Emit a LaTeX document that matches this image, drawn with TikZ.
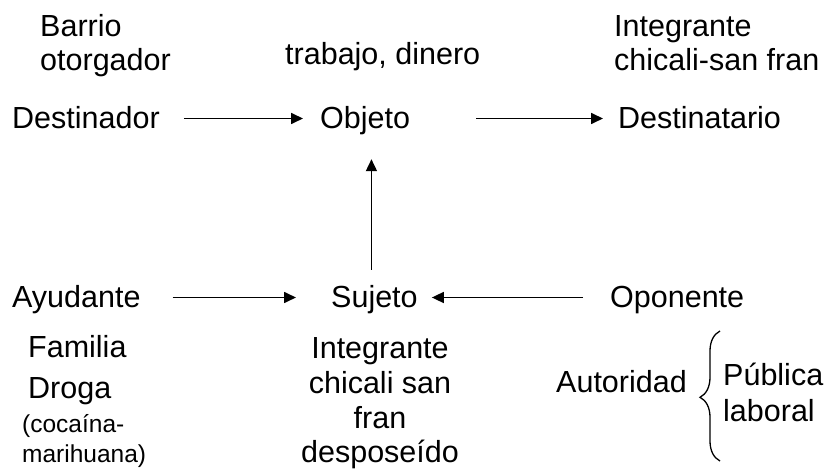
\documentclass[tikz,border=0pt]{standalone}
\usepackage{fontspec}
\setmainfont{Liberation Sans}
\usetikzlibrary{arrows.meta,decorations.pathreplacing}
\begin{document}
\begin{tikzpicture}[x=1pt,y=-1pt,
  lbl/.style={inner sep=0pt, anchor=base west, font=\fontsize{30.5}{34}\selectfont, text height=21pt, text depth=0pt},
  clbl/.style={lbl, anchor=base},
  small/.style={inner sep=0pt, anchor=base west, font=\fontsize{24.5}{28}\selectfont},
  arr/.style={line width=1.7pt, -{Triangle[length=12pt,width=11pt]}}]
\useasboundingbox (0,0) rectangle (830,470);
% top row labels
\node[lbl] (barrio) at (40,37) {Barrio};
\node[lbl] (otorg) at (40,71) {otorgador};
\node[lbl] (trab) at (285,65) {trabajo, dinero};
\node[lbl] (integ1) at (614,37) {Integrante};
\node[lbl] (chic1) at (614,71) {chicali-san fran};
% actants top
\node[lbl] (dest) at (12,129) {Destinador};
\node[lbl] (obj) at (320,129) {Objeto};
\node[lbl] (dstt) at (618,129) {Destinatario};
% actants bottom
\node[lbl] (ayud) at (12,308) {Ayudante};
\node[lbl] (suj) at (331,308) {Sujeto};
\node[lbl] (opon) at (610,308) {Oponente};
% descriptions bottom
\node[lbl] (fam) at (28,357) {Familia};
\node[lbl] (drog) at (28,398) {Droga};
\node[small] (coca) at (22,432) {(cocaína-};
\node[small] (mari) at (22,462) {marihuana)};
\node[clbl] (integ2) at (380,358) {Integrante};
\node[clbl] (chic2) at (380,393) {chicali san};
\node[clbl] (fran2) at (380,428) {fran};
\node[clbl] (desp) at (380,462) {desposeído};
\node[lbl] (auto) at (556,392) {Autoridad};
\node[lbl] (publ) at (723,385) {Pública};
\node[lbl] (labo) at (723,421) {laboral};
% brace
\coordinate (bb) at (720,461);
\coordinate (bt) at (720,331);
\draw[line width=1.3pt, decorate, decoration={brace, amplitude=20pt, aspect=0.49}] (bb) -- (bt);
% arrows
\draw[arr, shorten <=24pt, shorten >=17pt] (dest.east) -- (obj.west);
\draw[arr, shorten <=66pt, shorten >=15pt] (obj.east) -- (dstt.west);
\draw[arr, shorten <=32pt, shorten >=35pt] (ayud.east) -- (suj.west);
\draw[arr, shorten <=27pt, shorten >=14pt] (opon.west) -- (suj.east);
\draw[arr, shorten <=17pt, shorten >=30pt] ([xshift=-3pt]suj.north) -- ([xshift=-3pt]suj.north |- obj.south);
\end{tikzpicture}
\end{document}
